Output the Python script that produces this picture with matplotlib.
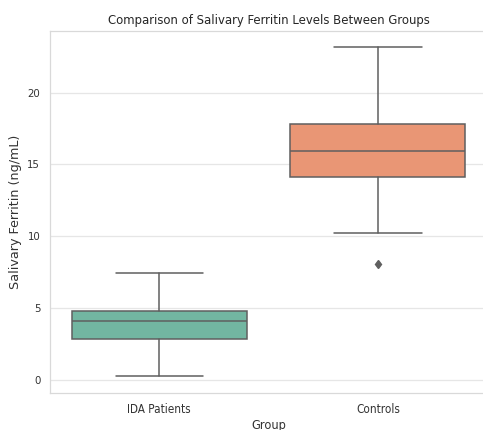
import matplotlib
matplotlib.use("Agg")
import matplotlib.pyplot as plt
import seaborn as sns

# box statistics (ng/mL)
groups = ["IDA Patients", "Controls"]
whisker_low = [0.25, 10.2]
q1 = [2.83, 14.12]
median = [4.05, 15.93]
q3 = [4.80, 17.82]
whisker_high = [7.42, 23.2]
outliers = [[], [8.05]]

sns.set_theme(style="whitegrid")
plt.rcParams["font.family"] = ["DejaVu Sans"]
plt.rcParams["font.stretch"] = "condensed"

palette = [sns.desaturate(c, 0.75) for c in sns.color_palette("Set2", 2)]
edge = "#5f5f5f"

fig = plt.figure(figsize=(4.83, 4.30), dpi=100)
ax = fig.add_axes([0.1035, 0.086, 0.905, 0.842])

stats = []
for i, g in enumerate(groups):
    stats.append({
        "label": g, "whislo": whisker_low[i], "q1": q1[i], "med": median[i],
        "q3": q3[i], "whishi": whisker_high[i], "fliers": outliers[i],
    })

lw = 1.1
bp = ax.bxp(stats, positions=range(len(groups)), widths=0.8, patch_artist=True,
            boxprops=dict(edgecolor=edge, linewidth=lw),
            medianprops=dict(color=edge, linewidth=lw),
            whiskerprops=dict(color=edge, linewidth=lw),
            capprops=dict(color=edge, linewidth=lw),
            capwidths=0.4,
            flierprops=dict(marker="d", markersize=4.5, markerfacecolor=edge,
                            markeredgecolor=edge, linestyle="none"))
for patch, c in zip(bp["boxes"], palette):
    patch.set_facecolor(c)

ax.set_xlim(-0.5, 1.5)
ax.set_ylim(-0.94, 24.3)
ax.set_yticks([0, 5, 10, 15, 20])
ax.xaxis.grid(False)
ax.yaxis.grid(True, color="#e6e6e6", linewidth=0.9)
for s in ax.spines.values():
    s.set_color("#d9d9d9")
    s.set_linewidth(0.9)

ax.tick_params(axis="y", labelsize=8.2, pad=7, colors="#333333", length=0)
ax.tick_params(axis="x", labelsize=8.4, pad=7, colors="#333333", length=0)
ax.set_title("Comparison of Salivary Ferritin Levels Between Groups",
             fontsize=9.4, color="#262626", pad=5)
ax.set_xlabel("Group", fontsize=9.2, color="#333333", labelpad=2)
# vertical text was not squeezed in the reference, so normal width here
ax.set_ylabel("Salivary Ferritin (ng/mL)", fontsize=9.2, color="#333333",
              labelpad=4, fontstretch="normal")

fig.savefig("out.png", dpi=100)
